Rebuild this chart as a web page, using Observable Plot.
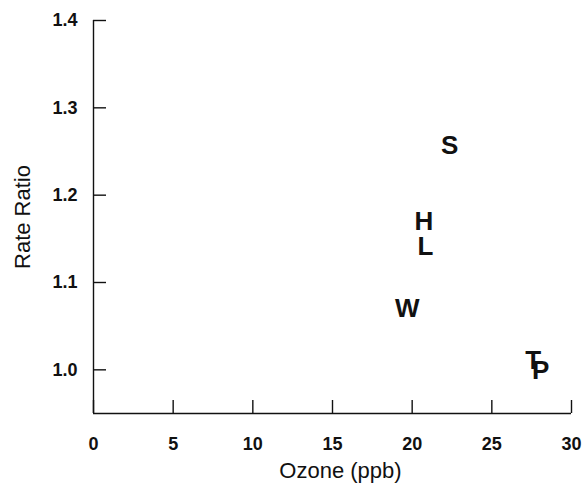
<!DOCTYPE html>
<html>
<head>
<meta charset="utf-8">
<script src="https://cdn.jsdelivr.net/npm/d3@7"></script>
<script src="https://cdn.jsdelivr.net/npm/@observablehq/plot@0.6"></script>
<style>
  html, body { margin: 0; padding: 0; background: #fff; }
  #chart svg { display: block; }
</style>
</head>
<body>
<div id="chart"></div>
<script>
const labels = ["S", "H", "L", "W", "T", "P"];
const ozone = [22.36, 20.73, 20.84, 19.69, 27.6, 28.06];
const ratio = [1.2567, 1.1699, 1.1412, 1.0705, 1.0103, 0.9989];
const xTicks = [0, 5, 10, 15, 20, 25, 30];
const yTicks = [1.0, 1.1, 1.2, 1.3, 1.4];
const xTitle = ["Ozone (ppb)"];
const yTitle = ["Rate Ratio"];

const data = labels.map((l, i) => ({label: l, ozone: ozone[i], ratio: ratio[i]}));

const font = "'Liberation Sans', Arial, Helvetica, sans-serif";

const chart = Plot.plot({
  width: 588,
  height: 502,
  marginLeft: 93,
  marginRight: 17,
  marginTop: 20,
  marginBottom: 89,
  style: {fontFamily: font, background: "#fff", color: "#111"},
  x: {domain: [0, 30]},
  y: {domain: [0.95, 1.4]},
  marks: [
    Plot.ruleX([0], {stroke: "#111", strokeWidth: 1.4}),
    Plot.ruleY([0.95], {stroke: "#111", strokeWidth: 1.4}),
    Plot.axisX({
      ticks: xTicks,
      tickSize: -13,
      tickPadding: 37,
      strokeWidth: 1.4,
      fontSize: 18,
      fontWeight: "bold",
      label: null
    }),
    Plot.axisY({
      ticks: yTicks,
      tickSize: -13,
      tickPadding: 29,
      strokeWidth: 1.4,
      tickFormat: d3.format(".1f"),
      fontSize: 18,
      fontWeight: "bold",
      label: null
    }),
    Plot.text(xTitle, {
      frameAnchor: "bottom",
      textAnchor: "middle",
      lineAnchor: "middle",
      dx: 8,
      dy: 57,
      fontSize: 22,
      fill: "#111"
    }),
    Plot.text(yTitle, {
      frameAnchor: "left",
      textAnchor: "middle",
      lineAnchor: "middle",
      dx: -71,
      rotate: -90,
      fontSize: 22,
      fill: "#111"
    }),
    Plot.text(data, {
      x: "ozone",
      y: "ratio",
      text: "label",
      fontSize: 26,
      fontWeight: "bold",
      fill: "#111"
    })
  ]
});

document.getElementById("chart").appendChild(chart);
</script>
</body>
</html>
